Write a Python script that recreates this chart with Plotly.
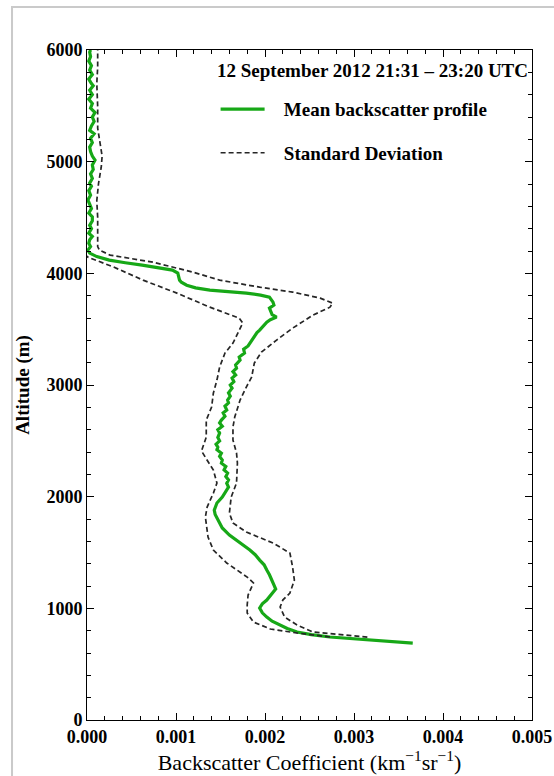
import plotly.graph_objects as go

# mean backscatter profile (altitude in m, coefficient in km^-1 sr^-1)
mean_alt = [689, 725, 743, 765, 788, 820, 851, 885, 922, 960, 1003, 1040, 1074, 1120, 1173,
            1210, 1253, 1300, 1343, 1390, 1432, 1480, 1522, 1590, 1656, 1720, 1790, 1840, 1880,
            1943, 1996, 2040, 2086, 2120, 2150, 2180, 2211, 2240, 2270, 2300, 2328, 2360, 2390,
            2420, 2444, 2470, 2500, 2530, 2569, 2600, 2630, 2660, 2686, 2720, 2750, 2775, 2810,
            2840, 2865, 2900, 2930, 2972, 3000, 3030, 3062, 3090, 3120, 3151, 3180, 3223, 3250,
            3286, 3320, 3350, 3375, 3410, 3440, 3470, 3492, 3520, 3545, 3563, 3585, 3608, 3630,
            3660, 3689, 3715, 3742, 3765, 3787, 3805, 3823, 3850, 3870, 3894, 3920, 3939, 3970,
            4002, 4029, 4050, 4073, 4095, 4118, 4150, 4181, 4208, 4240, 4270, 4300, 4330, 4360,
            4400, 4430, 4470, 4505, 4540, 4580, 4620, 4657, 4700, 4740, 4780, 4808, 4850, 4890,
            4930, 4970, 5014, 5050, 5090, 5130, 5170, 5210, 5250, 5280, 5320, 5360, 5400, 5440,
            5480, 5520, 5560, 5600, 5640, 5680, 5700, 5740, 5780, 5820, 5860, 5900, 5940, 5980,
            6000]
mean_val = [0.00366, 0.00310, 0.00273, 0.00252, 0.00236, 0.00225, 0.00217, 0.00208, 0.00202,
            0.00197, 0.00194, 0.00197, 0.00202, 0.00207, 0.00212, 0.00210, 0.00208, 0.00205,
            0.00202, 0.00199, 0.00194, 0.00189, 0.00183, 0.00172, 0.00160, 0.00152, 0.00147,
            0.00144, 0.00143, 0.00146, 0.00152, 0.00155, 0.00159, 0.00157, 0.00159, 0.00156,
            0.00158, 0.00154, 0.00156, 0.00151, 0.00152, 0.00149, 0.00151, 0.00146, 0.00147,
            0.00145, 0.00149, 0.00147, 0.00149, 0.00147, 0.00152, 0.00149, 0.00151, 0.00155,
            0.00153, 0.00157, 0.00155, 0.00159, 0.00158, 0.00161, 0.00159, 0.00163, 0.00161,
            0.00165, 0.00163, 0.00167, 0.00164, 0.00168, 0.00167, 0.00172, 0.00171, 0.00177,
            0.00176, 0.00181, 0.00183, 0.00186, 0.00189, 0.00191, 0.00194, 0.00197, 0.00199,
            0.00202, 0.00206, 0.00213, 0.00208, 0.00206, 0.00205, 0.00210, 0.00209, 0.00207,
            0.00205, 0.00195, 0.00179, 0.00138, 0.00122, 0.00112, 0.00106, 0.00104, 0.00103,
            0.00102, 0.00096, 0.00082, 0.00062, 0.00043, 0.00025, 0.00011, 0.00003, 0.00001,
            0.00004, 0.00002, 0.00003, 0.00006, 0.00002, 0.00005, 0.00003, 0.00006, 0.00006,
            0.00002, 0.00005, 0.00003, 0.00001, 0.00004, 0.00002, 0.00005, 0.00003, 0.00006,
            0.00004, 0.00007, 0.00006, 0.00009, 0.00006, 0.00004, 0.00003, 0.00006, 0.00004,
            0.00008, 0.00003, 0.00005, 0.00008, 0.00006, 0.00009, 0.00004, 0.00006, 0.00002,
            0.00006, 0.00003, 0.00007, 0.00005, 0.00002, 0.00006, 0.00003, 0.00005, 0.00002,
            0.00004, 0.00003, 0.00004]

# mean + standard deviation
upper_alt = [743, 761, 788, 851, 922, 1012, 1074, 1137, 1253, 1370, 1495, 1585, 1683, 1764,
             1853, 1996, 2122, 2301, 2391, 2507, 2623, 2713, 2865, 2981, 3071, 3196, 3294,
             3402, 3509, 3626, 3697, 3733, 3778, 3832, 3876, 3939, 4011, 4100, 4163, 4208,
             4240, 4300, 4500, 4650, 4808, 4950, 5050, 5150, 5300, 5490, 5700, 5850, 6000]
upper_val = [0.00315, 0.00292, 0.00254, 0.00236, 0.00222, 0.00217, 0.00220, 0.00228, 0.00233,
             0.00231, 0.00228, 0.00209, 0.00179, 0.00164, 0.00160, 0.00162, 0.00168, 0.00169,
             0.00168, 0.00164, 0.00164, 0.00166, 0.00172, 0.00179, 0.00185, 0.00188, 0.00196,
             0.00213, 0.00231, 0.00254, 0.00273, 0.00276, 0.00262, 0.00231, 0.00194, 0.00149,
             0.00119, 0.00074, 0.00026, 0.00014, 0.00012, 0.00012, 0.00012, 0.00011, 0.00013,
             0.00016, 0.00017, 0.00015, 0.00012, 0.00012, 0.00011, 0.00012, 0.00012]

# mean - standard deviation
lower_alt = [743, 779, 815, 877, 958, 1030, 1119, 1227, 1280, 1343, 1406, 1522, 1638, 1817,
             1907, 2032, 2122, 2238, 2391, 2417, 2534, 2686, 2802, 2928, 3044, 3160, 3286,
             3375, 3492, 3554, 3599, 3697, 3823, 3939, 4056, 4118, 4145, 4180]
lower_val = [0.00273, 0.00236, 0.00206, 0.00187, 0.00180, 0.00180, 0.00181, 0.00187, 0.00180,
             0.00169, 0.00157, 0.00142, 0.00136, 0.00133, 0.00135, 0.00142, 0.00146, 0.00142,
             0.00130, 0.00129, 0.00134, 0.00134, 0.00140, 0.00142, 0.00146, 0.00149, 0.00155,
             0.00164, 0.00171, 0.00175, 0.00171, 0.00138, 0.00101, 0.00063, 0.00030, 0.00009,
             0.00001, -0.00004]

x_ticks = [0.000, 0.001, 0.002, 0.003, 0.004, 0.005]
y_ticks = [0, 1000, 2000, 3000, 4000, 5000, 6000]

SERIF = 'Liberation Serif, Times New Roman, serif'
GREEN = '#17a817'
DASH = dict(color='#262626', width=1.7, dash='5px,3px')
PAD = '\u00a0\u00a0\u00a0'  # gap between legend sample and label

fig = go.Figure()
fig.add_trace(go.Scatter(x=mean_val, y=mean_alt, mode='lines', name=PAD + 'Mean backscatter profile',
                         line=dict(color=GREEN, width=3.2), legendgroup='m'))
fig.add_trace(go.Scatter(x=upper_val, y=upper_alt, mode='lines', name=PAD + 'Standard Deviation',
                         line=DASH, legendgroup='s'))
fig.add_trace(go.Scatter(x=lower_val, y=lower_alt, mode='lines', name='Standard Deviation',
                         line=DASH, legendgroup='s', showlegend=False))

axis_common = dict(
    showline=True, linecolor='black', linewidth=1, mirror='allticks',
    ticks='inside', ticklen=7, tickwidth=1, tickcolor='black',
    showgrid=False, zeroline=False, automargin=False,
    tickfont=dict(family=SERIF, size=18, color='black', weight='bold'),
)

fig.update_xaxes(
    range=[0, 0.005], tickvals=x_ticks, ticktext=[f'{v:.3f}' for v in x_ticks],
    minor=dict(dtick=0.0002, ticks='inside', ticklen=4, tickcolor='black'),
    title=dict(text='Backscatter Coefficient (km<sup>\u22121</sup>sr<sup>\u22121</sup>)',
               font=dict(family=SERIF, size=22, color='black'), standoff=9),
    **axis_common,
)
fig.update_yaxes(
    range=[0, 6000], tickvals=y_ticks,
    minor=dict(dtick=200, ticks='inside', ticklen=4, tickcolor='black'),
    title=dict(text='Altitude (m)', font=dict(family=SERIF, size=19, color='black', weight='bold'),
               standoff=11),
    **axis_common,
)

fig.update_layout(
    width=554, height=776,
    margin=dict(l=87, r=22, t=50, b=56),
    paper_bgcolor='white', plot_bgcolor='white',
    font=dict(family=SERIF, color='black'),
    showlegend=True,
    legend=dict(x=0.289, y=0.94, xanchor='left', yanchor='top',
                bgcolor='rgba(0,0,0,0)', itemwidth=44, tracegroupgap=16,
                traceorder='grouped',
                font=dict(family=SERIF, size=19, color='black', weight='bold')),
    annotations=[dict(text='12 September 2012 21:31 \u2013 23:20 UTC', xref='paper', yref='paper',
                      x=0.996, y=0.969, xanchor='right', yanchor='middle', showarrow=False,
                      font=dict(family=SERIF, size=19, color='black', weight='bold'))],
    shapes=[dict(type='rect', xref='paper', yref='paper', x0=-0.1685, y0=-1, x1=2, y1=1.064,
                 line=dict(color='#cacaca', width=2), layer='below')],
)

# page margin off so the figure sits at the window's corner
fig.write_html("out.html", config={'displayModeBar': False},
               post_script="document.body.style.margin='0';"
                           "document.body.style.overflow='hidden';")
